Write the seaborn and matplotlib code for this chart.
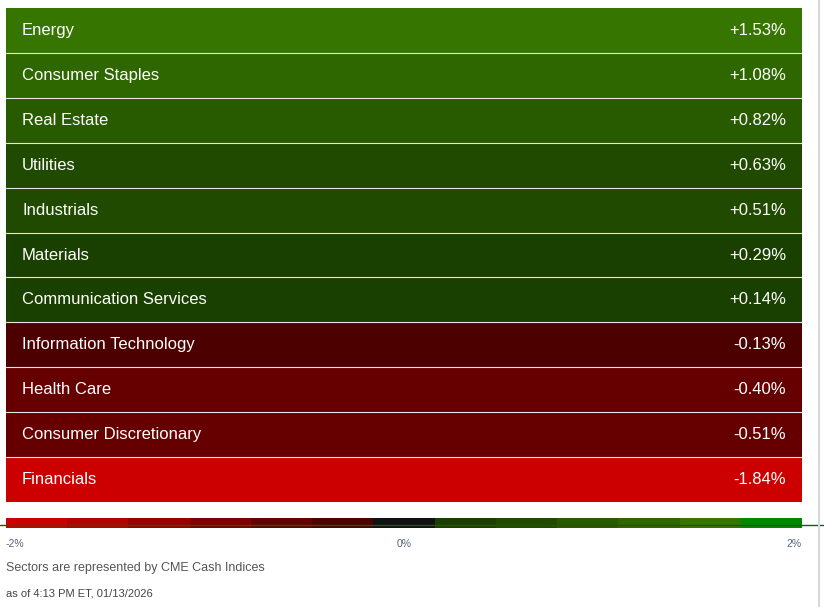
import numpy as np
import pandas as pd
import seaborn as sns
import matplotlib.pyplot as plt
from matplotlib.colors import ListedColormap, BoundaryNorm
from matplotlib.lines import Line2D

sns.set_style("white")
plt.rcParams['font.family'] = ['Liberation Sans', 'DejaVu Sans']

# sector performance
sectors = ['Energy', 'Consumer Staples', 'Real Estate', 'Utilities', 'Industrials',
           'Materials', 'Communication Services', 'Information Technology',
           'Health Care', 'Consumer Discretionary', 'Financials']
changes = [1.53, 1.08, 0.82, 0.63, 0.51, 0.29, 0.14, -0.13, -0.40, -0.51, -1.84]

# colour scale: 13 buckets from -2% to +2%
scale_colors = ['#cc0000', '#b30000', '#990000', '#800000', '#660000', '#4d0000',
                '#111111',
                '#1a4000', '#204a00', '#285a00', '#2e6600', '#367600', '#008800']
bin_edges = [-1.5, -1.0, -0.75, -0.6, -0.25, -0.01, 0.01, 0.5, 0.75, 1.0, 1.5, 2.0]
scale_ticks = ['-2%', '0%', '2%']

df = pd.DataFrame({'sector': sectors, 'change': changes}).set_index('sector')

cmap = ListedColormap(scale_colors)
norm = BoundaryNorm([-100] + bin_edges + [100], cmap.N)

W, H = 824, 607
fig = plt.figure(figsize=(W / 100, H / 100), dpi=100)

# rows
ax = fig.add_axes([6 / W, 1 - 502 / H, 796 / W, 494 / H])
sns.heatmap(df[['change']], ax=ax, cmap=cmap, norm=norm, cbar=False,
            xticklabels=False, yticklabels=False)
ax.set_xlabel('')
ax.set_ylabel('')
for k in range(1, len(sectors)):
    ax.axhline(k, color='#e6e6e6', lw=0.8)
for i, (name, val) in enumerate(zip(sectors, changes)):
    ax.text(16 / 796, i + 0.5, name, transform=ax.get_yaxis_transform(),
            color='white', fontsize=12, va='center', ha='left')
    ax.text(1 - 16 / 796, i + 0.5, f'{val:+.2f}%', transform=ax.get_yaxis_transform(),
            color='white', fontsize=12, va='center', ha='right')

# colour legend strip
cax = fig.add_axes([6 / W, 1 - 528 / H, 796 / W, 10 / H])
strip = np.arange(len(scale_colors)).reshape(1, -1)
sns.heatmap(strip, ax=cax, cmap=cmap, cbar=False, xticklabels=False, yticklabels=False)
fig.add_artist(Line2D([0, 1], [1 - 524.5 / H, 1 - 524.5 / H], color='#2a5200', lw=1.0))

tick_color = '#56627e'
fig.text(6 / W, 1 - 544 / H, scale_ticks[0], fontsize=7.5, color=tick_color, ha='left', va='center')
fig.text(404 / W, 1 - 544 / H, scale_ticks[1], fontsize=7.5, color=tick_color, ha='center', va='center')
fig.text(802 / W, 1 - 544 / H, scale_ticks[2], fontsize=7.5, color=tick_color, ha='right', va='center')

fig.text(6 / W, 1 - 568 / H, 'Sectors are represented by CME Cash Indices',
         fontsize=9, color='#555555', ha='left', va='center')
fig.text(6 / W, 1 - 593 / H, 'as of 4:13 PM ET, 01/13/2026',
         fontsize=8, color='#444444', ha='left', va='center')

# page border on the right
fig.add_artist(Line2D([818.5 / W, 818.5 / W], [0, 1], color='#d8d8d8', lw=1.5))

fig.savefig('out.png', dpi=100)
